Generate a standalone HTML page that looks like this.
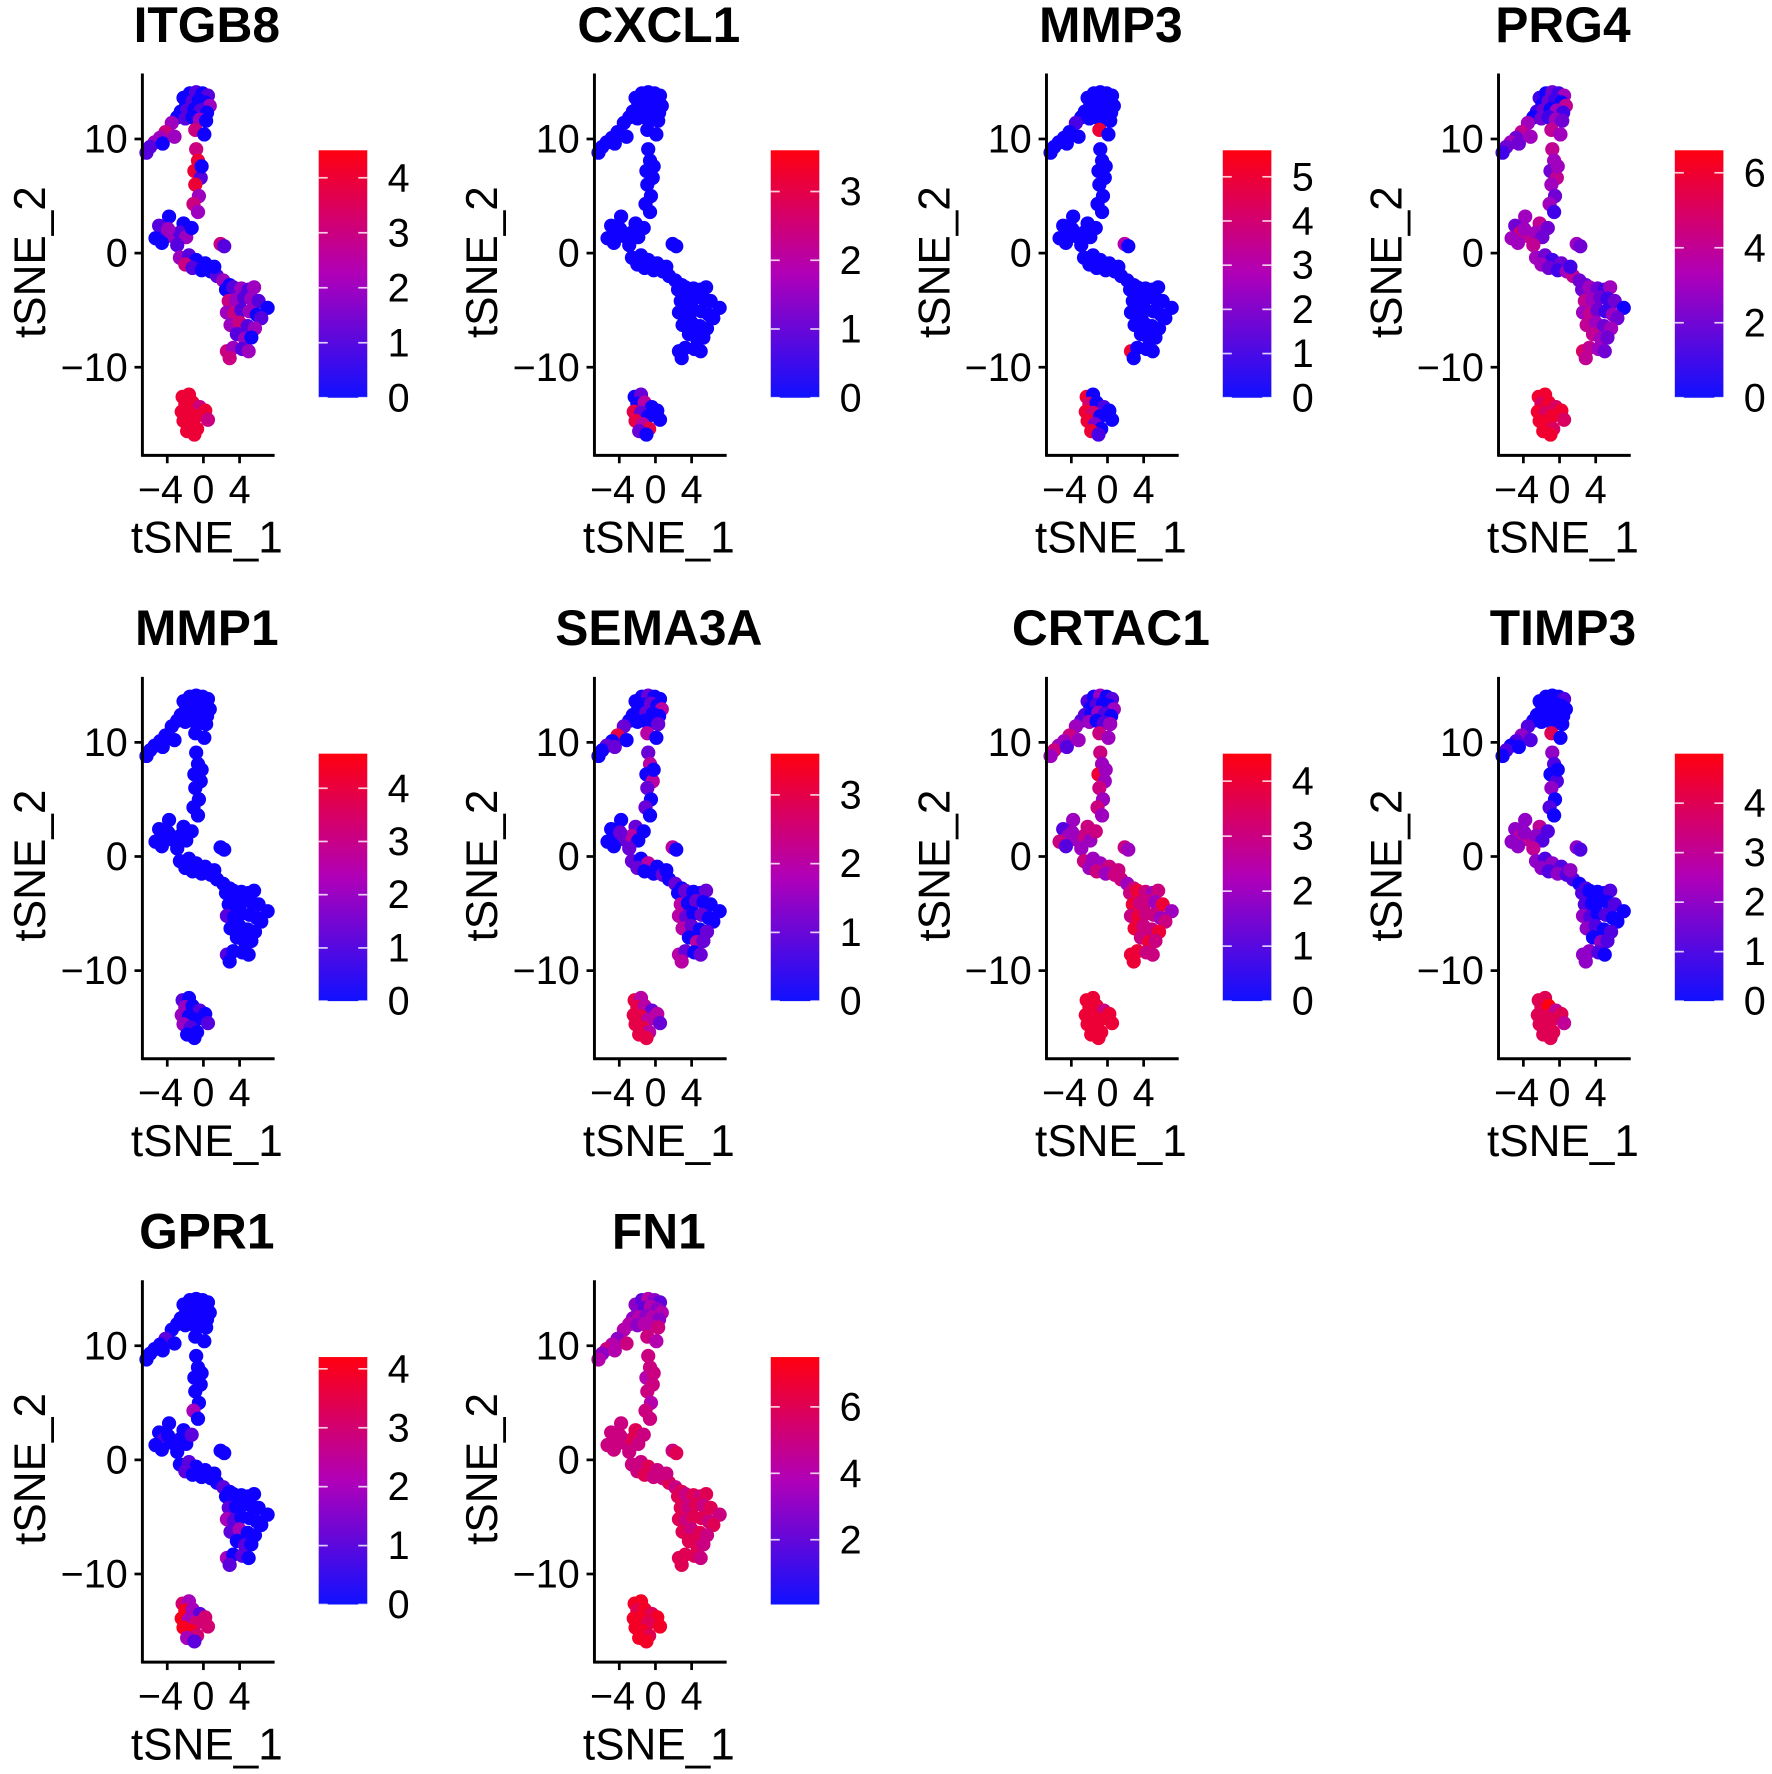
<!DOCTYPE html>
<html><head><meta charset="utf-8"><style>
html,body{margin:0;padding:0;background:#fff;}
svg{display:block;font-family:"Liberation Sans",Arial,sans-serif;}
</style></head><body>
<svg id="fig" width="1772" height="1774" viewBox="0 0 1568 1570" preserveAspectRatio="none" xmlns="http://www.w3.org/2000/svg">
<defs>
<linearGradient id="cbar" x1="0" y1="1" x2="0" y2="0"><stop offset="0" stop-color="#1010ff"/><stop offset="0.5" stop-color="#b000b8"/><stop offset="1" stop-color="#ff0010"/></linearGradient>
</defs>
</svg>
<script>
// shared tSNE coordinates (regions: top cluster, left arm, stem, left blob, middle band, right blob, bottom cluster)
const tsne1 = [-2.2,-1.5,-0.8,-0.1,0.5,-1.9,-1.2,-0.5,0.2,0.7,-2.5,-1.8,-1.0,-0.3,0.4,-2.9,-2.0,-1.2,-0.4,0.3,-0.9,0.1,
 -3.5,-4.2,-4.8,-5.4,-5.9,-6.3,-4.5,-3.2,
 -0.8,-0.6,-1.0,-0.3,-0.9,-0.5,-1.1,-0.6,-0.2,
 -3.8,-2.2,-4.9,-4.3,-5.3,-3.5,-2.6,-1.9,-4.6,-2.9,-1.3,-3.9,
 -2.6,-1.6,-0.8,0.2,-2.0,-1.2,-0.2,0.8,1.5,2.2,1.2,2.9,1.9,2.3,
 2.5,3.3,4.2,5.0,5.6,2.8,3.6,4.5,5.3,6.1,7.1,2.6,3.4,4.2,5.1,5.9,6.4,3.0,4.0,4.9,5.7,3.7,4.6,5.3,2.6,3.3,4.3,5.0,2.9,
 -2.3,-1.6,-2.0,-1.2,-0.4,0.2,-2.4,-1.6,-0.8,0.5,-2.2,-1.4,-0.7,-1.8,-1.0];
const tsne2 = [13.6,14.0,14.1,14.0,13.8,13.0,13.3,13.4,13.2,12.9,12.4,12.5,12.6,12.5,12.3,11.9,11.8,11.9,11.7,11.6,10.8,10.4,
 11.4,10.6,10.1,9.7,9.3,8.8,9.6,10.2,
 9.1,8.1,7.2,6.6,6.0,5.0,4.3,3.6,7.6,
 3.2,2.6,2.4,1.8,1.3,1.5,1.8,1.4,0.9,0.7,2.2,2.1,
 -0.4,-0.2,-0.6,-0.9,-1.0,-1.3,-1.5,-1.6,-2.0,-2.4,-1.2,-2.8,0.8,0.6,
 -3.2,-3.0,-3.1,-3.2,-3.0,-4.2,-4.1,-3.9,-4.0,-4.2,-4.8,-5.2,-5.3,-5.0,-5.1,-5.4,-5.7,-6.3,-6.1,-6.4,-6.6,-7.1,-7.5,-7.4,-8.6,-8.3,-8.4,-8.6,-9.2,
 -12.6,-12.4,-13.2,-13.1,-13.5,-13.8,-13.9,-14.0,-14.3,-14.6,-14.7,-15.0,-15.4,-15.6,-15.9];

const genes = ["ITGB8","CXCL1","MMP3","PRG4","MMP1","SEMA3A","CRTAC1","TIMP3","GPR1","FN1"];
const scaleMin = [0,0,0,0,0,0,0,0,0,0.05];
const scaleMax = [4.5,3.6,5.6,6.6,4.65,3.6,4.5,5.0,4.2,7.5];
const cbarTicks = [[0,1,2,3,4],[0,1,2,3],[0,1,2,3,4,5],[0,2,4,6],[0,1,2,3,4],[0,1,2,3],[0,1,2,3,4],[0,1,2,3,4],[0,1,2,3,4],[2,4,6]];
const xTicks = [-4,0,4];
const yTicks = [10,0,-10];

const exprITGB8 = [0,0,1,0,1,0,1,0,0,2,0,1,0,1,0,0,1,0,2,0,3,0, 2,3,2,2,1,1,0,2, 3,4,4,1,4,2,3,2,0, 0,0,1,1,0,2,1,2,0,1,0,2, 2,1,0,0,3,1,0,0,1,2,0,0,3,1, 0,1,2,1,2,3,2,1,2,1,0,2,3,1,2,0,1,2,3,1,2,1,2,0,3,2,1,2,3, 4,4,4,4,3,4,4,4,4,3,4,4,4,4,4];
const exprCXCL1 = [0,0,0,0,0,0,0,0,0,0,0,0,0,0,0,0,0,0,0,0,0,0, 0,0,0,0,0,0,0,0, 0,0,0,0,0,0,0,0,0, 0,0,0,0,0,0,0,0,0,0,0,0, 0,0,0,0,0,0,0,0,0,0,0,0,0,0, 0,0,0,0,0,0,0,0,0,0,0,0,0,0,0,0,0,0,0,0,0,0,0,0,0,0,0,0,0, 0,1,0,2,0,0,3,1,0,0,3,2,3,1,0];
const exprMMP3 = [0,0,0,0,0,0,0,0,0,0,0,0,0,0,0,0,0,0,0,0,5,0, 1,0,0,0,0,0,0,0, 0,0,0,0,0,0,0,0,0, 0,0,0,0,0,0,0,0,0,0,0,0, 0,0,0,0,0,0,0,0,0,0,0,0,3,0, 0,0,0,0,0,0,0,0,0,0,0,0,0,0,0,0,0,0,0,0,0,0,0,0,5,0,0,0,0, 5,0,4,0,1,0,5,4,0,0,5,2,0,5,1];
const exprPRG4 = [1,0,2,1,3,0,2,1,0,4,1,2,0,3,1,0,2,1,3,2,4,3, 3,4,2,3,2,1,2,3, 4,3,2,4,3,2,3,1,3, 3,4,2,5,3,4,3,2,3,4,2,3, 3,2,1,2,3,2,1,3,4,2,1,2,3,2, 2,3,2,1,3,4,3,2,1,2,0,3,4,2,1,3,2,4,3,2,3,4,3,2,5,4,3,2,4, 6,6,5,6,5,6,6,5,6,5,6,6,5,6,6];
const exprMMP1 = [0,0,0,0,0,0,0,0,0,0,0,0,0,0,0,0,0,0,0,0,0,0, 0,0,0,0,0,0,0,0, 0,0,0,0,0,0,0,0,0, 0,0,0,0,0,0,0,0,0,0,0,0, 0,0,0,0,0,0,0,0,0,0,0,0,0,0, 0,0,0,0,0,0,0,0,0,0,0,1,0,0,0,0,0,0,0,0,0,0,0,0,1,0,0,0,0, 1,0,2,0,1,0,2,0,0,1,2,1,0,0,0];
const exprSEMA3A = [0,0,1,0,0,0,0,1,0,2,0,0,1,0,0,0,0,0,0,1,2,0, 1,3,0,1,0,0,1,0, 1,2,0,2,1,0,1,0,0, 0,1,0,0,0,1,2,0,0,1,0,1, 1,0,2,0,1,0,0,1,0,1,0,0,2,0, 0,1,0,0,1,2,0,1,0,0,0,2,1,0,1,0,0,2,1,0,1,0,2,1,2,1,0,1,2, 3,2,3,2,1,2,3,3,2,1,3,3,2,3,3];
const exprCRTAC1 = [1,0,2,0,1,0,1,0,0,2,1,0,2,1,0,1,2,0,1,2,3,2, 2,3,2,2,3,2,1,2, 3,2,4,2,3,2,3,2,2, 2,3,1,2,3,2,3,2,1,2,3,2, 3,2,2,3,2,3,2,3,3,2,3,3,3,2, 3,4,3,2,3,4,3,3,2,4,2,3,4,3,3,2,3,4,3,3,4,3,4,3,4,4,3,3,4, 4,4,4,4,3,4,4,4,4,4,4,4,4,4,4];
const exprTIMP3 = [0,0,0,0,1,0,0,0,0,0,0,0,0,0,0,0,0,0,0,0,4,0, 1,2,1,0,1,0,0,1, 2,1,0,1,2,0,1,0,0, 2,3,2,3,2,3,2,1,2,3,1,2, 2,1,2,1,2,1,2,1,1,0,2,1,2,1, 1,0,0,0,1,1,0,0,0,1,0,2,1,0,1,0,0,2,1,0,1,0,2,1,2,2,1,0,2, 4,4,4,5,3,4,4,4,4,3,4,4,4,4,4];
const exprGPR1 = [0,0,0,0,0,0,0,0,0,0,0,0,0,0,0,0,0,0,0,0,0,0, 0,1,0,0,0,0,0,0, 0,0,0,0,0,0,2,0,0, 0,0,0,1,0,0,0,0,0,0,1,0, 0,1,0,0,1,0,0,0,0,1,0,0,0,0, 0,0,0,0,0,1,0,0,0,0,0,2,1,0,0,0,0,1,2,0,0,0,1,0,2,0,1,0,1, 3,2,4,2,1,3,4,2,3,3,4,4,3,2,1];
const exprFN1 = [3,2,4,3,2,3,2,4,3,4,3,4,3,4,3,4,3,4,4,5,5,4, 4,3,4,5,3,4,4,5, 5,5,4,5,5,4,5,5,5, 5,6,5,5,5,5,6,5,5,5,5,5, 5,5,6,5,5,6,5,5,6,5,5,6,5,6, 6,5,6,5,6,6,5,6,5,6,5,6,5,6,6,5,6,6,5,6,5,6,6,5,6,6,6,5,6, 7,7,6,7,6,7,7,7,6,7,7,7,6,7,7];
const exprAll = [exprITGB8,exprCXCL1,exprMMP3,exprPRG4,exprMMP1,exprSEMA3A,exprCRTAC1,exprTIMP3,exprGPR1,exprFN1];

const NS = "http://www.w3.org/2000/svg";
const svg = document.getElementById("fig");
function mk(tag, attrs, parent, text){
  const e = document.createElementNS(NS, tag);
  for (const k in attrs) e.setAttribute(k, attrs[k]);
  if (text !== undefined) e.textContent = text;
  parent.appendChild(e);
  return e;
}
function xs(v){ return 180 + 8*v; }
function ys(v){ return 224 - 10.1*v; }
function lerp(a,b,t){ return Math.round(a + (b-a)*t); }
function col(t){
  t = Math.max(0, Math.min(1, t));
  if (t < 0.5) { const u = t/0.5; return "rgb(" + lerp(16,176,u) + ",0," + lerp(255,184,u) + ")"; }
  const u = (t-0.5)/0.5; return "rgb(" + lerp(176,255,u) + ",0," + lerp(184,16,u) + ")";
}

genes.forEach((g, i) => {
  const ox = (i % 4) * 400, oy = Math.floor(i / 4) * 534;
  const p = mk("g", {transform: "translate(" + ox + "," + oy + ")"}, svg);
  
  
  const t = mk("text", {x: 183, y: 37, "text-anchor": "middle", "font-size": 44, "font-weight": "bold"}, p, g);
  
  
  const pts = mk("g", {}, p);
  
  
  const vals = exprAll[i], lo = scaleMin[i], hi = scaleMax[i];
  for (let k = 0; k < tsne1.length; k++) {
    const v = vals[k] || 0;
    const c = mk("circle", {cx: xs(tsne1[k]), cy: ys(tsne2[k]), r: 6.3, fill: col((v - lo) / (hi - lo))}, pts);
    
    
  }
  const ya = mk("line", {x1: 126, y1: 65, x2: 126, y2: 404, stroke: "#000", "stroke-width": 2.6}, p);
  
  
  const xa = mk("line", {x1: 125, y1: 403, x2: 243, y2: 403, stroke: "#000", "stroke-width": 2.6}, p);
  
  
  yTicks.forEach(v => {
    mk("line", {x1: 119, y1: ys(v), x2: 126, y2: ys(v), stroke: "#000", "stroke-width": 2.4}, p);
    const l = mk("text", {x: 113, y: ys(v) + 12, "text-anchor": "end", "font-size": 35}, p, v < 0 ? "\u2212" + (-v) : String(v));
    
    
  });
  xTicks.forEach(v => {
    mk("line", {x1: xs(v), y1: 403, x2: xs(v), y2: 410, stroke: "#000", "stroke-width": 2.4}, p);
    const l = mk("text", {x: xs(v) - (v < 0 ? 6 : 0), y: 445, "text-anchor": "middle", "font-size": 35}, p, v < 0 ? "\u2212" + (-v) : String(v));
    
    
  });
  const yt = mk("text", {x: 0, y: 0, "text-anchor": "middle", "font-size": 39, transform: "translate(40,232) rotate(-90)"}, p, "tSNE_2");
  
  
  const xt = mk("text", {x: 183, y: 489, "text-anchor": "middle", "font-size": 39}, p, "tSNE_1");
  
  
  const cb = mk("rect", {x: 282, y: 133, width: 43, height: 219, fill: "url(#cbar)"}, p);
  
  
  cbarTicks[i].forEach(v => {
    const y = 352 - (v - lo) / (hi - lo) * 219;
    mk("line", {x1: 282, y1: y, x2: 290, y2: y, stroke: "#fff", "stroke-width": 1.5, opacity: 0.8}, p);
    mk("line", {x1: 317, y1: y, x2: 325, y2: y, stroke: "#fff", "stroke-width": 1.5, opacity: 0.8}, p);
    const l = mk("text", {x: 343, y: y + 12, "font-size": 35}, p, String(v));
    
    
  });
});
</script>
</body></html>
